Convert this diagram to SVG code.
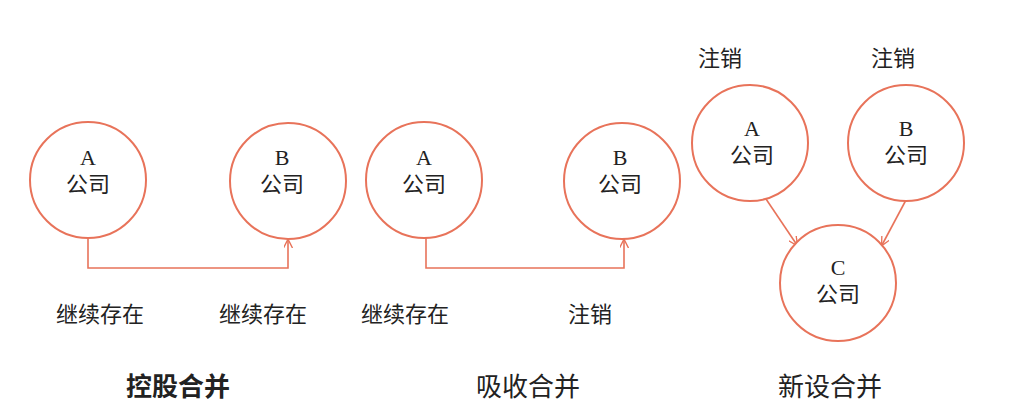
<svg xmlns="http://www.w3.org/2000/svg" width="1010" height="419" viewBox="0 0 1010 419">
<style>
.n{fill:#fff;stroke:#E8735A;stroke-width:2}
.c{fill:none;stroke:#E8735A;stroke-width:1.6}
text{font-family:"Liberation Serif","Noto Sans CJK SC",serif;font-size:22px;fill:#222;text-anchor:middle}
.t{font-size:26px}
.b{font-weight:bold}
</style>
<defs><marker id="ar" viewBox="0 0 10 10" refX="9" refY="5" markerWidth="9" markerHeight="9" orient="auto" markerUnits="userSpaceOnUse"><path d="M0,0L10,5L0,10" fill="none" stroke="#E8735A" stroke-width="1.5"/></marker></defs>
<rect width="1010" height="419" fill="#fff"/>
<g id="connectors">
<path class="c" d="M88,238V268H288V240" marker-end="url(#ar)"/>
<path class="c" d="M426,238V268H624V240" marker-end="url(#ar)"/>
<path class="c" d="M766,199L797,245" marker-end="url(#ar)"/>
<path class="c" d="M906,200L882,245" marker-end="url(#ar)"/>
</g>
<g id="A1"><circle class="n" cx="88" cy="180" r="58"/><text x="88" y="165">A</text><text x="88" y="192">公司</text></g>
<g id="B1"><circle class="n" cx="288" cy="181" r="58"/><text x="282" y="165">B</text><text x="282" y="192">公司</text></g>
<g id="A2"><circle class="n" cx="424" cy="180" r="58"/><text x="424" y="165">A</text><text x="424" y="192">公司</text></g>
<g id="B2"><circle class="n" cx="622" cy="181" r="58"/><text x="620" y="165">B</text><text x="620" y="192">公司</text></g>
<g id="A3"><circle class="n" cx="750" cy="143" r="58"/><text x="752" y="136">A</text><text x="752" y="163">公司</text></g>
<g id="B3"><circle class="n" cx="906" cy="143" r="58"/><text x="906" y="136">B</text><text x="906" y="163">公司</text></g>
<g id="C"><circle class="n" cx="838" cy="283" r="58"/><text x="838" y="275">C</text><text x="838" y="302">公司</text></g>
<g id="labels">
<text x="100" y="322">继续存在</text>
<text x="263" y="322">继续存在</text>
<text x="405" y="322">继续存在</text>
<text x="590" y="322">注销</text>
<text x="720" y="66">注销</text>
<text x="893" y="66">注销</text>
<text class="t b" x="178" y="396">控股合并</text>
<text class="t" x="528" y="396">吸收合并</text>
<text class="t" x="830" y="396">新设合并</text>
</g>
</svg>
